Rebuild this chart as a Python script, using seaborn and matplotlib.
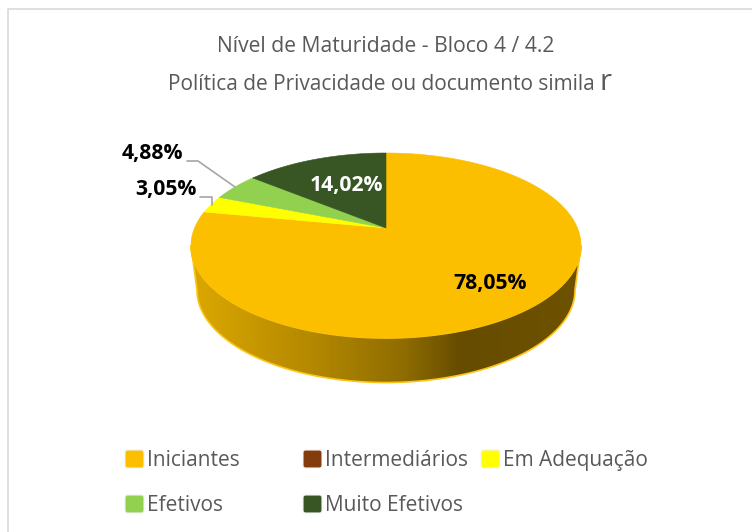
import numpy as np
import matplotlib
matplotlib.use("Agg")
import matplotlib.pyplot as plt
from matplotlib.colors import LinearSegmentedColormap
from matplotlib.patches import FancyBboxPatch, Polygon
import seaborn as sns

categories = ["Iniciantes", "Intermediários", "Em Adequação", "Efetivos", "Muito Efetivos"]
values = [78.05, 0.0, 3.05, 4.88, 14.02]
value_labels = ["78,05%", "", "3,05%", "4,88%", "14,02%"]
colors = ["#FCBF00", "#843C0C", "#FFFF00", "#92D050", "#375623"]
title_1 = "Nível de Maturidade - Bloco 4 / 4.2"
title_2 = "Política de Privacidade ou documento simila"

sns.set_theme(style="white")
plt.rcParams["font.family"] = ["Open Sans", "DejaVu Sans"]

# pixel style axes, same size as the image
fig = plt.figure(figsize=(7.52, 5.32), dpi=100)
ax = fig.add_axes([0, 0, 1, 1])
ax.set_xlim(0, 752)
ax.set_ylim(532, 0)
ax.axis("off")

# chart frame
ax.plot([7.5, 7.5, 752], [532, 9, 9], color="#D9D9D9", lw=1.2, zorder=1)

# geometry of the tilted pie
cx, cy, rx, ry = 386, 245.5, 195, 92.5
apex_x, apex_y = 386, 228
tilt = 0.455
depth_cy, depth_rx = 290, 189


def rim_point(theta):
    # ray from the apex up to the top ellipse
    dx = np.sin(theta)
    dy = -np.cos(theta) * tilt
    ox = (apex_x - cx) / rx
    oy = (apex_y - cy) / ry
    a = (dx / rx) ** 2 + (dy / ry) ** 2
    b = 2 * (ox * dx / rx + oy * dy / ry)
    c = ox ** 2 + oy ** 2 - 1
    s = (-b + np.sqrt(b ** 2 - 4 * a * c)) / (2 * a)
    return apex_x + s * dx, apex_y + s * dy


# side wall with the dark gradient
t = np.linspace(0, np.pi, 200)
upper = np.column_stack([cx + rx * np.cos(t), cy + ry * np.sin(t)])
lower = np.column_stack([cx + depth_rx * np.cos(t[::-1]), depth_cy + ry * np.sin(t[::-1])])
wall = Polygon(np.vstack([upper, lower]), closed=True, facecolor="none", edgecolor="#FCC419", lw=1.2, zorder=3)
ax.add_patch(wall)
side_cmap = LinearSegmentedColormap.from_list(
    "side", [(0, "#DCA800"), (0.3, "#B58900"), (0.55, "#8E6C00"), (0.69, "#664C00"), (1, "#6E5200")]
)
grad = ax.imshow(np.linspace(0, 1, 400).reshape(1, -1), extent=[191, 581, 385, 240], cmap=side_cmap,
                 aspect="auto", zorder=2)
grad.set_clip_path(wall)
ax.set_xlim(0, 752)
ax.set_ylim(532, 0)

# top face, clockwise from 12 o'clock
start = 0.0
for value, color in zip(values, colors):
    if value > 0:
        angles = np.linspace(start, start + value, 240) / 100 * 2 * np.pi
        rim = np.array([rim_point(a) for a in angles])
        ax.add_patch(Polygon(np.vstack([[apex_x, apex_y], rim]), closed=True, facecolor=color,
                             edgecolor=color, lw=0.4, zorder=4))
    start += value

# percentage labels
label_pos = {"78,05%": (490.5, 283, "black"), "3,05%": (166, 189.5, "black"),
             "4,88%": (152, 153.5, "black"), "14,02%": (346, 185, "white")}
for lab in value_labels:
    if lab:
        x, y, c = label_pos[lab]
        ax.text(x, y, lab, ha="center", va="center", fontsize=15.2, fontweight="bold", color=c, zorder=6)

# leader lines
ax.plot([187, 198, 235], [161, 161, 187], color="#A6A6A6", lw=1.2, zorder=5)
ax.plot([200, 212, 212], [197, 197, 205], color="#A6A6A6", lw=1.2, zorder=5)

# title
ax.text(386, 52.5, title_1, ha="center", va="baseline", fontsize=15.2, color="#595959")
ax.text(168, 90, title_2, ha="left", va="baseline", fontsize=15, color="#595959")
ax.text(599, 90, "r", ha="left", va="baseline", fontsize=21, color="#595959")

# legend laid out by hand, the columns are not equal
legend_xy = [(125, 466), (303, 466), (481, 466), (125, 511), (303, 511)]
for name, color, (x, y) in zip(categories, colors, legend_xy):
    ax.add_patch(FancyBboxPatch((x, y - 16), 19, 18, boxstyle="round,pad=0,rounding_size=2.5",
                                facecolor=color, edgecolor="#F2F2F2", lw=0.8))
    ax.text(x + 22, y, name, ha="left", va="baseline", fontsize=15, color="#595959")

fig.savefig("out.png", dpi=100)
